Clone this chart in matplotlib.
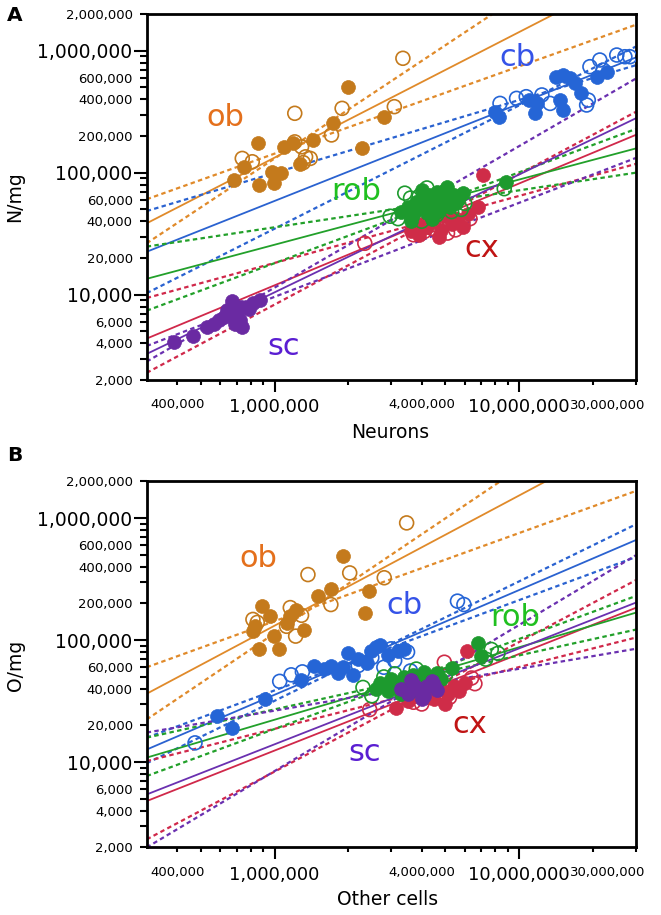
import matplotlib
matplotlib.use("Agg")
import matplotlib.pyplot as plt

plt.rcParams['font.family'] = ['DejaVu Sans']

# ---- data (cells, density per mg) ----
x_ends = [3e5, 3e7]

# panel A: neurons vs N/mg
ob_a_filled = [(683e3, 87e3), (752e3, 112e3), (857e3, 176e3), (868e3, 79e3), (977e3, 102e3),
               (997e3, 82e3), (1.06e6, 99e3), (1.09e6, 163e3), (1.19e6, 174e3), (1.27e6, 119e3),
               (1.43e6, 185e3), (1.74e6, 254e3), (2.0e6, 501e3), (2.28e6, 160e3), (2.8e6, 288e3)]
ob_a_open = [(738e3, 131e3), (811e3, 123e3), (1.21e6, 307e3), (1.21e6, 179e3), (1.29e6, 163e3),
             (1.34e6, 135e3), (1.40e6, 131e3), (1.31e6, 121e3), (1.71e6, 204e3), (1.89e6, 337e3),
             (3.09e6, 348e3), (3.35e6, 867e3)]
cb_a_filled = [(7.97e6, 316e3), (8.3e6, 288e3), (11.0e6, 394e3), (11.6e6, 307e3), (11.8e6, 370e3),
               (14.2e6, 612e3), (15.1e6, 632e3), (16.1e6, 594e3), (14.7e6, 394e3), (15.1e6, 327e3),
               (16.9e6, 541e3), (18.0e6, 448e3), (20.8e6, 612e3), (22.8e6, 673e3)]
cb_a_open = [(8.36e6, 370e3), (9.77e6, 407e3), (10.7e6, 420e3), (12.4e6, 434e3), (13.4e6, 370e3),
             (19.2e6, 394e3), (19.5e6, 740e3), (21.4e6, 839e3), (25.1e6, 922e3), (27.1e6, 893e3),
             (28.4e6, 893e3), (22.1e6, 695e3), (18.9e6, 359e3)]
rob_a_filled = [(3.3e6, 48e3), (3.5e6, 52e3), (3.7e6, 45e3), (3.8e6, 58e3), (3.9e6, 50e3),
                (4.0e6, 62e3), (4.1e6, 55e3), (4.2e6, 47e3), (4.3e6, 66e3), (4.4e6, 52e3),
                (4.5e6, 58e3), (4.6e6, 70e3), (4.7e6, 49e3), (4.8e6, 62e3), (4.9e6, 55e3),
                (5.0e6, 72e3), (5.1e6, 60e3), (5.2e6, 52e3), (5.4e6, 66e3), (5.5e6, 57e3),
                (5.7e6, 62e3), (5.9e6, 68e3), (4.0e6, 72e3), (5.06e6, 77e3), (5.6e6, 60e3),
                (8.85e6, 84e3), (3.6e6, 40e3), (4.4e6, 42e3)]
rob_a_open = [(2.97e6, 44e3), (3.41e6, 68e3), (3.2e6, 42e3), (3.6e6, 62e3), (4.0e6, 40e3),
              (4.6e6, 45e3), (5.3e6, 48e3), (5.8e6, 50e3), (6.0e6, 56e3), (8.7e6, 74e3),
              (4.2e6, 75e3), (3.9e6, 64e3)]
cx_a_filled = [(7.1e6, 96e3), (6.8e6, 52e3), (3.6e6, 33e3), (3.9e6, 31e3), (4.2e6, 36e3),
               (4.5e6, 40e3), (4.8e6, 34e3), (5.0e6, 44e3), (5.3e6, 38e3), (5.6e6, 42e3),
               (5.9e6, 36e3), (6.2e6, 46e3), (4.0e6, 38e3), (4.7e6, 30e3)]
cx_a_open = [(2.34e6, 26.4e3), (4.1e6, 33e3), (4.4e6, 35e3), (4.6e6, 37e3), (5.1e6, 32e3),
             (5.5e6, 34e3), (5.9e6, 38e3), (6.3e6, 42e3), (3.7e6, 31e3), (5.2e6, 40e3)]
sc_a_filled = [(387e3, 4.12e3), (465e3, 4.6e3), (527e3, 5.47e3), (564e3, 5.8e3), (593e3, 6.2e3),
               (668e3, 8.8e3), (655e3, 7.0e3), (698e3, 7.2e3), (721e3, 6.2e3), (767e3, 7.9e3),
               (818e3, 8.5e3), (871e3, 9.0e3), (690e3, 5.8e3), (620e3, 6.6e3), (640e3, 7.5e3),
               (730e3, 8.0e3), (790e3, 7.6e3), (700e3, 6.6e3), (735e3, 5.4e3)]
sc_a_open = []

# fits: [solid, dashed, dashed] as (value at 300,000 ; value at 30,000,000)
ob_a_fit = [(38.5e3, 4.4e6), (60.6e3, 1.63e6), (26.4e3, 12e6)]
cb_a_fit = [(22.5e3, 0.88e6), (48.5e3, 0.76e6), (10.3e3, 1.08e6)]
rob_a_fit = [(13.5e3, 158e3), (24.8e3, 100e3), (7.4e3, 228e3)]
cx_a_fit = [(4.37e3, 204e3), (9.4e3, 118e3), (2.29e3, 315e3)]
sc_a_fit = [(3.27e3, 279e3), (3.8e3, 132e3), (2.83e3, 590e3)]

# panel B: other cells vs O/mg
ob_b_filled = [(885e3, 190e3), (867e3, 84e3), (1.04e6, 84e3), (998e3, 108e3), (816e3, 119e3),
               (1.32e6, 122e3), (1.5e6, 230e3), (1.7e6, 261e3), (1.9e6, 489e3), (2.43e6, 252e3),
               (2.34e6, 167e3), (1.22e6, 178e3), (957e3, 158e3), (834e3, 130e3), (1.12e6, 139e3),
               (1.16e6, 158e3)]
ob_b_open = [(816e3, 148e3), (1.16e6, 185e3), (1.22e6, 108e3), (1.37e6, 345e3), (1.7e6, 196e3),
             (2.03e6, 356e3), (2.81e6, 325e3), (3.47e6, 915e3), (1.12e6, 130e3), (850e3, 140e3),
             (1.29e6, 160e3)]
cb_b_filled = [(583e3, 23.8e3), (667e3, 19.1e3), (917e3, 32.7e3), (1.28e6, 47.6e3), (1.45e6, 61e3),
               (1.6e6, 58e3), (1.81e6, 54e3), (1.9e6, 60e3), (2.0e6, 79e3), (2.2e6, 70e3),
               (2.4e6, 65e3), (2.48e6, 81e3), (2.6e6, 88e3), (2.69e6, 92e3), (2.9e6, 75e3),
               (3.2e6, 81e3), (3.4e6, 84e3), (2.1e6, 52e3), (1.7e6, 62e3)]
cb_b_open = [(473e3, 14.4e3), (1.17e6, 52e3), (1.3e6, 55e3), (2.2e6, 62e3), (2.5e6, 72e3),
             (3.0e6, 85e3), (3.1e6, 68e3), (3.5e6, 80e3), (5.6e6, 209e3), (5.95e6, 196e3),
             (1.05e6, 46e3), (2.8e6, 60e3), (3.6e6, 56e3)]
rob_b_filled = [(2.6e6, 40e3), (2.7e6, 45e3), (2.9e6, 38e3), (3.0e6, 48e3), (3.2e6, 42e3),
                (3.4e6, 50e3), (3.5e6, 44e3), (3.7e6, 52e3), (3.9e6, 47e3), (4.1e6, 55e3),
                (4.3e6, 50e3), (4.6e6, 54e3), (4.8e6, 48e3), (5.3e6, 59e3), (6.8e6, 95e3),
                (7.0e6, 74e3), (3.3e6, 36e3), (4.0e6, 43e3)]
rob_b_open = [(2.3e6, 41e3), (2.5e6, 35e3), (2.8e6, 50e3), (3.1e6, 53e3), (3.6e6, 38e3),
              (4.4e6, 45e3), (5.0e6, 52e3), (7.7e6, 84e3), (8.2e6, 78e3), (7.3e6, 70e3),
              (3.8e6, 58e3)]
cx_b_filled = [(3.15e6, 28e3), (3.5e6, 32e3), (3.8e6, 35e3), (4.2e6, 38e3), (4.5e6, 33e3),
               (4.8e6, 40e3), (5.1e6, 36e3), (5.4e6, 42e3), (5.7e6, 38e3), (6.1e6, 81e3),
               (6.0e6, 45e3), (5.0e6, 30e3)]
cx_b_open = [(2.45e6, 27e3), (4.0e6, 30e3), (4.3e6, 34e3), (4.6e6, 36e3), (5.2e6, 34e3),
             (5.6e6, 40e3), (6.4e6, 49e3), (4.95e6, 66e3), (6.6e6, 44e3), (3.7e6, 31e3)]
sc_b_filled = [(3.3e6, 40e3), (3.5e6, 36e3), (3.7e6, 44e3), (3.9e6, 38e3), (4.0e6, 33e3),
               (4.2e6, 42e3), (4.4e6, 46e3), (4.6e6, 39e3), (3.6e6, 47e3), (4.1e6, 35e3),
               (3.8e6, 41e3), (4.5e6, 43e3)]
sc_b_open = []

ob_b_fit = [(36.4e3, 4.95e6), (60e3, 1.67e6), (22.4e3, 11.2e6)]
cb_b_fit = [(12.7e3, 661e3), (15.9e3, 480e3), (9.8e3, 889e3)]
rob_b_fit = [(10.9e3, 168e3), (15.9e3, 122e3), (7.7e3, 230e3)]
cx_b_fit = [(4.8e3, 184e3), (10.2e3, 105e3), (2.33e3, 310e3)]
sc_b_fit = [(5.44e3, 203e3), (17.5e3, 85e3), (2.0e3, 496e3)]

groups = ['ob', 'cb', 'cx', 'rob', 'sc']
marker_colors = {'ob': '#c47a1c', 'cb': '#2565d6', 'rob': '#1d9a2e', 'cx': '#cf2c48', 'sc': '#6a2aa2'}
line_colors = {'ob': '#e08a2a', 'cb': '#2a62d0', 'rob': '#22a02a', 'cx': '#d0284a', 'sc': '#6a30b0'}
label_colors = {'ob': '#e4701c', 'cb': '#3553e8', 'rob': '#20c020', 'cx': '#c01414', 'sc': '#5a1ed2'}

y_major = [1e4, 1e5, 1e6]
y_major_labels = ['10,000', '100,000', '1,000,000']
y_minor = [m * 10 ** e for e in range(3, 7) for m in range(2, 10) if 2e3 <= m * 10 ** e <= 2e6]
y_minor_named = {2e3: '2,000', 4e3: '4,000', 6e3: '6,000', 2e4: '20,000', 4e4: '40,000',
                 6e4: '60,000', 2e5: '200,000', 4e5: '400,000', 6e5: '600,000', 2e6: '2,000,000'}
x_major = [1e6, 1e7]
x_major_labels = ['1,000,000', '10,000,000']
x_minor = [m * 1e5 for m in range(4, 10)] + [m * 1e6 for m in range(2, 10)] + [2e7, 3e7]
x_minor_named = {4e5: '400,000', 4e6: '4,000,000'}


def xy(points):
    return [p[0] for p in points], [p[1] for p in points]


def draw_panel(ax, data, fits, label_pos):
    for g in groups:
        solid, d1, d2 = fits[g]
        ax.plot(x_ends, solid, color=line_colors[g], lw=1.3, zorder=2)
        for d in (d1, d2):
            ax.plot(x_ends, d, color=line_colors[g], lw=1.6, ls=(0, (2.0, 1.5)), zorder=2)
    for g in groups:
        filled, hollow = data[g]
        if filled:
            ax.scatter(*xy(filled), s=100, color=marker_colors[g], edgecolors=marker_colors[g],
                       linewidths=0.5, zorder=3)
        if hollow:
            ax.scatter(*xy(hollow), s=100, facecolors='none', edgecolors=marker_colors[g],
                       linewidths=1.2, zorder=3)
    for g, (tx, ty) in label_pos.items():
        ax.text(tx, ty, g, transform=ax.transAxes, color=label_colors[g], fontsize=22,
                ha='center', va='center')

    ax.set_xscale('log')
    ax.set_yscale('log')
    ax.set_xlim(3e5, 3e7)
    ax.set_ylim(2e3, 2e6)

    ax.set_yticks(y_major, y_major_labels)
    ax.set_yticks(y_minor, [y_minor_named.get(v, '') for v in y_minor], minor=True)
    ax.set_xticks(x_major, x_major_labels)
    ax.set_xticks(x_minor, [x_minor_named.get(v, '') for v in x_minor], minor=True)

    ax.tick_params(axis='y', which='major', direction='out', length=9.5, width=1.5, pad=0.8,
                   labelsize=13.5)
    ax.tick_params(axis='y', which='minor', direction='out', length=5, width=1.5, pad=5,
                   labelsize=9.5)
    ax.tick_params(axis='x', which='major', direction='out', length=8.6, width=1.5, pad=4.5,
                   labelsize=13)
    ax.tick_params(axis='x', which='minor', direction='out', length=3.6, width=1.5, pad=9.5,
                   labelsize=9.5)
    ax.text(1.019, -0.051, '30,000,000', transform=ax.transAxes, ha='right', va='top',
            fontsize=9.5)
    for s in ax.spines.values():
        s.set_linewidth(2.0)


fig = plt.figure(figsize=(6.61, 9.15), dpi=100)
ax_a = fig.add_axes([0.2219, 0.5847, 0.7398, 0.4])
ax_b = fig.add_axes([0.2219, 0.0738, 0.7398, 0.4])

data_a = {'ob': (ob_a_filled, ob_a_open), 'cb': (cb_a_filled, cb_a_open),
          'rob': (rob_a_filled, rob_a_open), 'cx': (cx_a_filled, cx_a_open),
          'sc': (sc_a_filled, sc_a_open)}
fits_a = {'ob': ob_a_fit, 'cb': cb_a_fit, 'rob': rob_a_fit, 'cx': cx_a_fit, 'sc': sc_a_fit}
data_b = {'ob': (ob_b_filled, ob_b_open), 'cb': (cb_b_filled, cb_b_open),
          'rob': (rob_b_filled, rob_b_open), 'cx': (cx_b_filled, cx_b_open),
          'sc': (sc_b_filled, sc_b_open)}
fits_b = {'ob': ob_b_fit, 'cb': cb_b_fit, 'rob': rob_b_fit, 'cx': cx_b_fit, 'sc': sc_b_fit}

pos_a = {'ob': (0.160, 0.716), 'cb': (0.759, 0.880), 'rob': (0.429, 0.514),
         'cx': (0.685, 0.360), 'sc': (0.280, 0.091)}
pos_b = {'ob': (0.228, 0.789), 'cb': (0.528, 0.660), 'rob': (0.753, 0.628),
         'cx': (0.661, 0.336), 'sc': (0.446, 0.260)}

draw_panel(ax_a, data_a, fits_a, pos_a)
draw_panel(ax_b, data_b, fits_b, pos_b)

fig.text(0.590, 0.5268, 'Neurons', ha='center', va='center', fontsize=13.5)
fig.text(0.587, 0.0164, 'Other cells', ha='center', va='center', fontsize=13.5)
fig.text(0.0227, 0.7847, 'N/mg', rotation=90, ha='center', va='center', fontsize=13.5)
fig.text(0.0227, 0.2732, 'O/mg', rotation=90, ha='center', va='center', fontsize=13.5)
fig.text(0.0224, 0.9836, 'A', ha='center', va='center', fontsize=14.5, fontweight='bold')
fig.text(0.0224, 0.5027, 'B', ha='center', va='center', fontsize=14.5, fontweight='bold')

fig.savefig('out.png', dpi=100)
